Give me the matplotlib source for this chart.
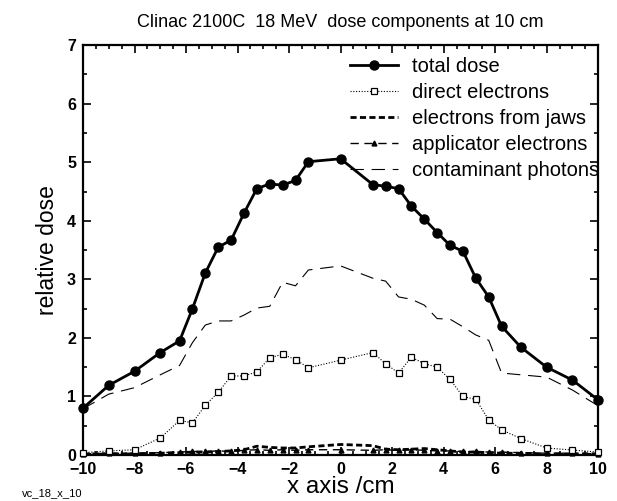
import matplotlib
matplotlib.use("Agg")
import matplotlib.pyplot as plt
from matplotlib.ticker import MultipleLocator

plt.rcParams['font.family'] = ['Liberation Sans', 'DejaVu Sans']

x = [-10, -9, -8, -7, -6.25, -5.75, -5.25, -4.75, -4.25, -3.75, -3.25, -2.75, -2.25, -1.75, -1.25,
     0, 1.25, 1.75, 2.25, 2.75, 3.25, 3.75, 4.25, 4.75, 5.25, 5.75, 6.25, 7, 8, 9, 10]

total_dose = [0.80, 1.19, 1.43, 1.75, 1.95, 2.50, 3.11, 3.55, 3.67, 4.13, 4.55, 4.63, 4.61, 4.69, 5.01,
              5.06, 4.62, 4.59, 4.55, 4.25, 4.03, 3.80, 3.58, 3.48, 3.02, 2.70, 2.20, 1.84, 1.50, 1.28, 0.94]

direct_electrons = [0.04, 0.07, 0.09, 0.29, 0.59, 0.55, 0.85, 1.07, 1.35, 1.35, 1.42, 1.66, 1.72, 1.63, 1.49,
                    1.62, 1.75, 1.56, 1.40, 1.67, 1.56, 1.50, 1.29, 1.00, 0.95, 0.60, 0.43, 0.28, 0.12, 0.085, 0.05]

jaw_electrons = [0.02, 0.02, 0.02, 0.03, 0.04, 0.05, 0.05, 0.06, 0.07, 0.09, 0.15, 0.13, 0.12, 0.12, 0.14,
                 0.18, 0.16, 0.10, 0.09, 0.10, 0.11, 0.09, 0.07, 0.05, 0.05, 0.04, 0.03, 0.03, 0.02, 0.02, 0.02]

applicator_electrons = [0.02, 0.03, 0.03, 0.04, 0.05, 0.06, 0.06, 0.07, 0.06, 0.08, 0.09, 0.08, 0.09, 0.08, 0.09,
                        0.09, 0.08, 0.09, 0.08, 0.09, 0.08, 0.07, 0.07, 0.06, 0.06, 0.05, 0.05, 0.04, 0.03, 0.03, 0.02]

contaminant_photons = [0.79, 1.04, 1.15, 1.37, 1.53, 1.92, 2.22, 2.29, 2.29, 2.39, 2.51, 2.54, 2.95, 2.89, 3.16,
                       3.23, 3.02, 2.97, 2.70, 2.66, 2.56, 2.33, 2.32, 2.19, 2.05, 1.96, 1.40, 1.37, 1.33, 1.11, 0.84]

labels = ["total dose", "direct electrons", "electrons from jaws", "applicator electrons", "contaminant photons"]
title = "Clinac 2100C  18 MeV  dose components at 10 cm"

fig = plt.figure(figsize=(6.17, 5.01), dpi=100)
ax = fig.add_axes([0.1345, 0.0918, 0.835, 0.818])

ax.plot(x, total_dose, color='black', lw=2.0, marker='o', ms=6.5, label=labels[0], clip_on=False, zorder=5)
ax.plot(x, direct_electrons, color='black', lw=0.8, ls=(0, (1, 1.5)), marker='s', ms=5,
        mfc='white', mec='black', mew=0.9, label=labels[1], clip_on=False, zorder=4)
ax.plot(x, jaw_electrons, color='black', lw=2.0, ls=(0, (2.2, 1.2)), label=labels[2], clip_on=False, zorder=3)
ax.plot(x, applicator_electrons, color='black', lw=1.0, ls=(0, (6, 4)), marker='^', ms=3.5,
        label=labels[3], clip_on=False, zorder=3)
ax.plot(x, contaminant_photons, color='black', lw=0.8, ls=(0, (12, 7)), label=labels[4], clip_on=False, zorder=2)

ax.set_xlim(-10, 10)
ax.set_ylim(0, 7)
ax.xaxis.set_major_locator(MultipleLocator(2))
ax.xaxis.set_minor_locator(MultipleLocator(0.5))
ax.yaxis.set_major_locator(MultipleLocator(1))
ax.yaxis.set_minor_locator(MultipleLocator(0.5))
ax.tick_params(which='both', direction='in', top=True, right=True, width=1.2)
ax.tick_params(which='major', length=6, labelsize=11.5, pad=5)
ax.tick_params(which='minor', length=3)
for lab in ax.get_xticklabels() + ax.get_yticklabels():
    lab.set_fontweight('bold')
for s in ax.spines.values():
    s.set_linewidth(1.6)

ax.set_xlabel("x axis /cm", fontsize=17.5, labelpad=-1)
ax.set_ylabel("relative dose", fontsize=16.5, labelpad=6)
ax.set_title(title, fontsize=13, pad=13)

leg = ax.legend(loc='upper left', bbox_to_anchor=(0.518, 0.971), frameon=False, fontsize=14.5,
                handlelength=2.4, handletextpad=0.7, labelspacing=0.35, borderaxespad=0, borderpad=0)

fig.text(0.035, 0.016, "vc_18_x_10", fontsize=8, va='center')

fig.savefig("out.png", dpi=100)
